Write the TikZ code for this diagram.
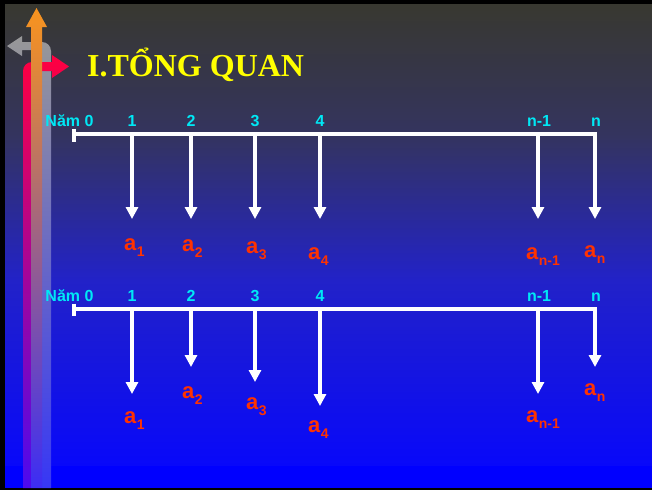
\documentclass[tikz,border=0pt]{standalone}
\usepackage{fontspec}
\setmainfont{Liberation Serif}
\setsansfont{Liberation Sans}
\usetikzlibrary{arrows.meta}
\definecolor{bgA}{RGB}{56,56,48}
\definecolor{bgB}{RGB}{52,52,95}
\definecolor{bgC}{RGB}{34,34,200}
\definecolor{bgD}{RGB}{8,8,250}
\definecolor{bgE}{RGB}{0,0,255}
\definecolor{yrcol}{RGB}{0,232,245}
\definecolor{acol}{RGB}{255,50,0}
\definecolor{ttlcol}{RGB}{255,255,0}
\definecolor{gyA}{RGB}{152,152,152}
\definecolor{gyB}{RGB}{115,115,205}
\definecolor{gyC}{RGB}{55,55,245}
\definecolor{rdA}{RGB}{255,0,64}
\definecolor{rdB}{RGB}{195,0,185}
\definecolor{rdC}{RGB}{75,10,240}
\definecolor{orA}{RGB}{248,148,30}
\definecolor{orB}{RGB}{185,115,185}
\definecolor{orC}{RGB}{60,45,245}
\newcommand{\asub}[1]{a\kern0.5pt\raisebox{-6pt}{\fontsize{14}{14}\selectfont #1}}
\begin{document}
\begin{tikzpicture}[x=1pt,y=-1pt,
  axisline/.style={line width=4pt, white},
  flow/.style={line width=4pt, white, -{Triangle[width=12pt,length=12pt]}},
  yr/.style={text=yrcol, font=\fontsize{16}{16}\selectfont\sffamily\bfseries, inner sep=0pt, anchor=base},
  amt/.style={text=acol, font=\fontsize{22}{22}\selectfont\sffamily\bfseries, inner sep=0pt, anchor=base west}]
\useasboundingbox (0,0) rectangle (652,490);
% background
\fill[black] (0,0) rectangle (652,490);
\shade[top color=bgA,bottom color=bgB] (5,4) rectangle (652,135.5);
\shade[top color=bgB,bottom color=bgC] (5,135) rectangle (652,280.5);
\shade[top color=bgC,bottom color=bgD] (5,280) rectangle (652,466.5);
\fill[bgE] (5,466) rectangle (652,488);
% decorative bent arrows
\shade[top color=gyA, middle color=gyB, bottom color=gyC]
  (42,488) -- (42,50) -- (22,50) -- (22,56) -- (7,46) -- (22,36) -- (22,42)
  [rounded corners=9pt] -- (51,42) [sharp corners] -- (51,488) -- cycle;
\shade[top color=rdA, middle color=rdB, bottom color=rdC]
  (23,488) -- (23,90) [rounded corners=9pt] -- (23,62) -- (40,62) [sharp corners] -- (52,62)
  -- (52,55) -- (69,66.5) -- (52,78) -- (52,71) -- (31,71) -- (31,488) -- cycle;
\shade[top color=orA, middle color=orB, bottom color=orC]
  (31,488) -- (31,27) -- (26,27) -- (36.5,8) -- (47,27) -- (42,27) -- (42,488) -- cycle;
% title
\node[text=ttlcol, font=\fontsize{32}{32}\selectfont\bfseries, inner sep=0pt, anchor=base west] (title) at (87,76) {I.TỔNG QUAN};
% ===== timeline 1 =====
\coordinate (s0) at (74,134);
\foreach \n/\x in {1/132,2/191,3/255,4/320,m/538,n/595} {\coordinate (s\n) at (\x,134);}
\draw[axisline] (74,128.5) coordinate (sk1) -- (74,142) coordinate (sk2);
\node[yr] (y0) at (69.5,126) {Năm 0};
\node[yr] (y1) at (132,126) {1};
\node[yr] (y2) at (191,126) {2};
\node[yr] (y3) at (255,126) {3};
\node[yr] (y4) at (320,126) {4};
\node[yr] (ym) at (539,126) {n-1};
\node[yr] (yn) at (596,126) {n};
\coordinate (u1) at (132,219);
\coordinate (u2) at (191,219);
\coordinate (u3) at (255,219);
\coordinate (u4) at (320,219);
\coordinate (um) at (538,219);
\coordinate (un) at (595,219);
\draw[flow] (s0) -- (sn) -- (un);
\draw[flow] (s1) -- (u1);
\draw[flow] (s2) -- (u2);
\draw[flow] (s3) -- (u3);
\draw[flow] (s4) -- (u4);
\draw[flow] (sm) -- (um);
\node[amt] (a1) at (124,250) {\asub{1}};
\node[amt] (a2) at (182,251) {\asub{2}};
\node[amt] (a3) at (246,253) {\asub{3}};
\node[amt] (a4) at (308,259) {\asub{4}};
\node[amt] (am) at (526,259) {\asub{n-1}};
\node[amt] (an) at (584,257) {\asub{n}};
% ===== timeline 2 =====
\coordinate (t0) at (74,309);
\foreach \n/\x in {1/132,2/191,3/255,4/320,m/538,n/595} {\coordinate (t\n) at (\x,309);}
\draw[axisline] (74,303.5) coordinate (tk1) -- (74,316) coordinate (tk2);
\node[yr] (z0) at (69.5,301) {Năm 0};
\node[yr] (z1) at (132,301) {1};
\node[yr] (z2) at (191,301) {2};
\node[yr] (z3) at (255,301) {3};
\node[yr] (z4) at (320,301) {4};
\node[yr] (zm) at (539,301) {n-1};
\node[yr] (zn) at (596,301) {n};
\coordinate (v1) at (132,394);
\coordinate (v2) at (191,367);
\coordinate (v3) at (255,382);
\coordinate (v4) at (320,406);
\coordinate (vm) at (538,394);
\coordinate (vn) at (595,367);
\draw[flow] (t0) -- (tn) -- (vn);
\draw[flow] (t1) -- (v1);
\draw[flow] (t2) -- (v2);
\draw[flow] (t3) -- (v3);
\draw[flow] (t4) -- (v4);
\draw[flow] (tm) -- (vm);
\node[amt] (b1) at (124,423) {\asub{1}};
\node[amt] (b2) at (182,398) {\asub{2}};
\node[amt] (b3) at (246,409) {\asub{3}};
\node[amt] (b4) at (308,432) {\asub{4}};
\node[amt] (bm) at (526,422) {\asub{n-1}};
\node[amt] (bn) at (584,395) {\asub{n}};
\end{tikzpicture}
\end{document}
